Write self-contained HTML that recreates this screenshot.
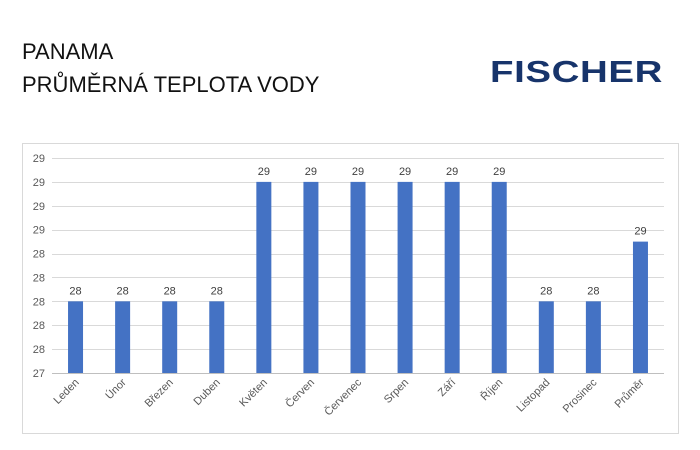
<!DOCTYPE html>
<html><head><meta charset="utf-8"><style>
body{margin:0;width:700px;height:450px;background:#fff;overflow:hidden;font-family:"Liberation Sans","DejaVu Sans",sans-serif}
.t{position:absolute;left:22px;font-size:22px;color:#111}
</style></head><body>
<div class="t" style="top:39px">PANAMA</div>
<div class="t" style="top:72px">PRŮMĚRNÁ TEPLOTA VODY</div>
<div style="position:absolute;left:490px;top:54px;font-size:31px;font-weight:bold;color:#17346b;letter-spacing:0.5px;transform:scaleX(1.24);transform-origin:0 0">FISCHER</div>
<svg id="c" width="700" height="450" style="position:absolute;left:0;top:0">
<rect x="22.5" y="143.5" width="656" height="290" fill="none" stroke="#d9d9d9"/>
</svg>
<script>
const categories=["Leden","Únor","Březen","Duben","Květen","Červen","Červenec","Srpen","Září","Říjen","Listopad","Prosinec","Průměr"];
const values=[28,28,28,28,29,29,29,29,29,29,28,28,28.5];
const valueLabels=["28","28","28","28","29","29","29","29","29","29","28","28","29"];
const ticks=[27.4,27.6,27.8,28.0,28.2,28.4,28.6,28.8,29.0,29.2];
const tickLabels=["27","28","28","28","28","28","29","29","29","29"];
const svg=document.getElementById('c');const NS="http://www.w3.org/2000/svg";
const x0=52,x1=664,yB=373,yT=158,vMin=27.4,vMax=29.2;
const y=v=>yB-(v-vMin)/(vMax-vMin)*(yB-yT);
const band=(x1-x0)/categories.length;
const xc=i=>x0+band*(i+0.5);
function mk(t,a){const e=document.createElementNS(NS,t);for(const k in a)e.setAttribute(k,a[k]);svg.appendChild(e);return e;}
ticks.forEach((v,i)=>{
 const l=mk('line',{x1:x0,x2:x1,y1:Math.round(y(v))+0.5,y2:Math.round(y(v))+0.5,stroke:i==0?'#bfbfbf':'#d9d9d9'});
 
 
 const t=mk('text',{x:45,y:y(v)+4,'text-anchor':'end','font-size':'11',fill:'#595959'});t.textContent=tickLabels[i];
 
 
});
categories.forEach((c,i)=>{
 const r=mk('rect',{x:xc(i)-7.5,y:y(values[i]),width:15,height:yB-y(values[i]),fill:'#4472c4'});
 
 
 const v=mk('text',{x:xc(i),y:y(values[i])-7,'text-anchor':'middle','font-size':'11',fill:'#404040'});v.textContent=valueLabels[i];
 
 
 const t=mk('text',{x:xc(i)+4,y:yB+10,'text-anchor':'end','font-size':'11',fill:'#595959',transform:`rotate(-45 ${xc(i)+4} ${yB+10})`});t.textContent=c;
 
 
});
</script>
</body></html>
